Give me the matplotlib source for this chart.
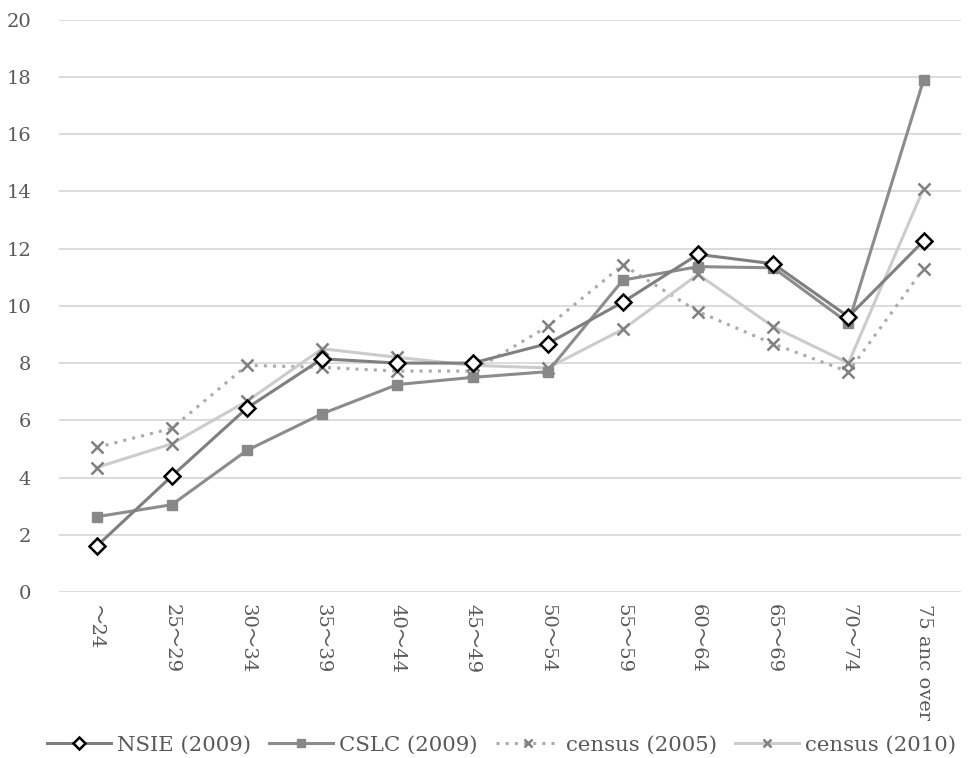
import matplotlib
matplotlib.use("Agg")
import matplotlib.pyplot as plt

plt.rcParams['font.family'] = ['DejaVu Serif', 'Noto Sans CJK JP']

# 年齢階級
ages = ['～24', '25～29', '30～34', '35～39', '40～44', '45～49',
        '50～54', '55～59', '60～64', '65～69', '70～74', '75 anc over']

nsie_2009 = [1.6, 4.05, 6.43, 8.15, 8.0, 8.0, 8.68, 10.13, 11.8, 11.47, 9.62, 12.27]
cslc_2009 = [2.63, 3.05, 4.95, 6.23, 7.25, 7.5, 7.7, 10.9, 11.37, 11.33, 9.4, 17.9]
census_2005 = [5.05, 5.72, 7.92, 7.85, 7.72, 7.72, 9.28, 11.43, 9.8, 8.67, 7.7, 11.3]
census_2010 = [4.35, 5.18, 6.67, 8.5, 8.2, 7.92, 7.83, 9.18, 11.1, 9.27, 8.0, 14.1]

x = list(range(len(ages)))

fig = plt.figure(figsize=(9.68, 7.58), dpi=100)
ax = fig.add_axes([0.061, 0.219, 0.932, 0.755])

ax.plot(x, nsie_2009, color='#7f7f7f', lw=2.2, marker='D', ms=8,
        mfc='white', mec='black', mew=1.8, label='NSIE (2009)', zorder=5)
ax.plot(x, cslc_2009, color='#8c8c8c', lw=2.2, marker='s', ms=7,
        mfc='#888888', mec='#888888', label='CSLC (2009)', zorder=4)
ax.plot(x, census_2005, color='#ababab', lw=2.2, ls=(0, (1, 2)), marker='x', ms=8,
        mec='#808080', mew=1.8, label='census (2005)', zorder=3)
ax.plot(x, census_2010, color='#cccccc', lw=2.2, marker='x', ms=8,
        mec='#808080', mew=1.8, label='census (2010)', zorder=3)

ax.set_xlim(-0.5, len(ages) - 0.5)
ax.set_ylim(0, 20)
ax.set_yticks(range(0, 21, 2))
ax.yaxis.grid(True, color='#d9d9d9', lw=1.3)
ax.set_axisbelow(True)
for s in ax.spines.values():
    s.set_visible(False)
ax.tick_params(length=0, colors='#595959', labelsize=14)
ax.tick_params(axis='y', pad=20)
ax.tick_params(axis='x', pad=9)
ax.set_xticks(x)
ax.set_xticklabels(ages, rotation=270, va='top', ha='center')

leg = fig.legend(loc='center', bbox_to_anchor=(0.518, 0.017), ncol=4, frameon=False,
                 fontsize=15.3, handlelength=3.0, columnspacing=0.85, handletextpad=0.3,
                 markerscale=0.8, borderpad=0, borderaxespad=0)
for t in leg.get_texts():
    t.set_color('#595959')

fig.savefig('out.png', dpi=100)
